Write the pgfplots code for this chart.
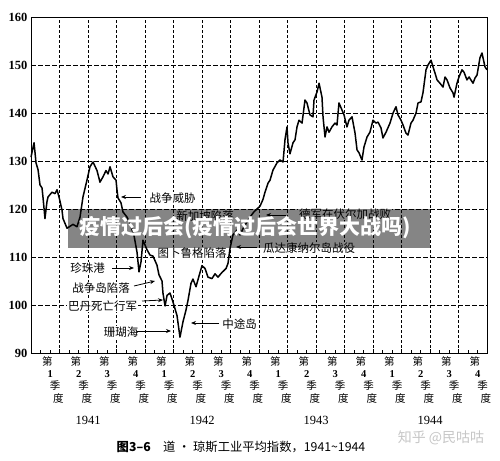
\documentclass[border=0pt]{standalone}
\usepackage{fontspec}
\setmainfont{Liberation Serif}
\newfontfamily\cjk{Noto Sans CJK SC}
\usepackage{pgfplots}
\pgfplotsset{compat=1.18}
\usetikzlibrary{arrows.meta}

\pgfplotstableread{
m v
0 130.8
0.32 133.8
0.53 129.6
0.74 128.2
0.95 125.0
1.16 124.4
1.26 122.5
1.47 118.0
1.68 121.5
1.79 122.5
2.21 123.5
2.53 123.2
2.74 124.0
2.95 122.5
3.26 119.8
3.37 118.0
3.58 117.0
3.79 116.0
4.11 116.4
4.42 116.8
4.84 116.3
5.16 118.3
5.47 122.5
5.89 126.0
6.21 128.8
6.53 129.8
6.95 128.0
7.26 125.6
7.58 126.7
7.89 128.0
8.11 127.3
8.32 128.8
8.63 126.7
8.95 126.0
9.05 124.0
9.16 122.3
9.47 121.3
9.68 119.4
10.11 118.3
10.42 117.0
10.84 114.5
11.16 111.0
11.37 106.9
11.58 109.0
11.79 113.5
12.21 111.5
12.53 110.4
12.84 110.2
13.26 108.3
13.47 106.3
13.79 105.0
13.89 102.5
14.11 99.8
14.32 102.0
14.63 102.5
14.95 100.6
15.37 97.8
15.68 93.3
16.00 96.5
16.32 99.0
16.53 101.0
16.84 104.5
17.05 105.4
17.37 103.8
17.68 106.0
18.00 108.2
18.32 107.6
18.63 105.8
19.05 105.5
19.37 106.5
19.68 105.8
20.11 106.8
20.53 107.6
20.74 108.7
20.95 111.8
21.26 114.6
21.68 115.6
22.00 114.6
22.42 116.3
23.05 118.3
23.47 119.4
23.79 120.0
24.11 120.6
24.42 122.0
24.63 123.5
24.95 125.4
25.16 126.0
25.47 128.1
25.89 129.6
26.21 130.2
26.53 129.8
26.74 134.5
26.95 137.1
27.05 133.8
27.26 131.5
27.58 133.8
27.79 134.4
28.00 137.1
28.21 138.5
28.53 137.9
28.84 142.7
29.05 142.1
29.37 139.6
29.68 139.2
29.79 142.7
30.11 144.4
30.32 146.2
30.63 143.3
30.74 139.2
30.95 135.0
31.16 137.1
31.37 136.0
31.68 137.1
32.00 137.9
32.21 137.5
32.42 142.1
32.74 140.6
32.95 139.6
33.26 137.1
33.47 138.5
33.79 139.2
34.11 135.8
34.32 132.3
34.53 131.7
34.84 130.2
35.05 132.9
35.37 135.0
35.68 136.0
36.00 138.5
36.32 137.9
36.53 138.1
36.84 136.9
37.05 134.8
37.37 136.0
37.79 137.9
38.11 140.0
38.42 141.3
38.63 139.6
38.95 138.5
39.16 137.5
39.47 135.8
39.68 135.4
40.00 137.9
40.21 138.5
40.53 140.0
40.74 142.1
41.05 142.3
41.26 144.2
41.58 149.0
41.79 150.0
42.11 151.0
42.32 149.6
42.53 148.3
42.74 146.9
43.05 146.2
43.37 145.4
43.58 147.5
43.79 146.9
44.11 145.2
44.42 144.2
44.53 143.3
44.84 146.2
45.05 147.5
45.37 149.0
45.58 148.5
45.89 146.9
46.11 147.5
46.53 146.2
46.74 147.3
46.95 147.9
47.26 151.5
47.47 152.5
47.58 151.5
47.79 149.6
48.00 149.0
}\dow

\newcommand{\qlab}[1]{{\cjk\fontsize{10.5}{12.4}\selectfont\begin{tabular}{@{}l@{}}第\\\hspace*{5.3pt}{\rmfamily\bfseries #1}\\\hspace*{7.7pt}季\\\hspace*{11pt}度\end{tabular}}}

\begin{document}
\begin{tikzpicture}[x=1pt,y=1pt]
\useasboundingbox (0,0) rectangle (500,460);
\fill[white] (0,0) rectangle (500,460);
\begin{axis}[
  at={(31pt,107pt)}, anchor=south west,
  scale only axis, width=456pt, height=336pt,
  xmin=0, xmax=48, ymin=90, ymax=160,
  axis line style={black, line width=0.8pt},
  xtick={0,3,...,48}, xticklabels={},
  minor xtick={1,...,47},
  ytick={90,100,...,160},
  /pgf/number format/assume math mode=true,
  yticklabel style={font=\fontsize{12.5}{12.5}\selectfont\bfseries, inner sep=0pt, xshift=-3.5pt},
  ytick style={draw=none},
  tick pos=left, tick align=inside,
  major tick length=4pt, minor tick length=2.5pt,
  xtick style={black, line width=0.6pt},
  minor x tick style={black, line width=0.6pt},
  xmajorgrids, ymajorgrids,
  x grid style={black, line width=0.6pt, dash pattern=on 2.5pt off 2.5pt},
  y grid style={black, line width=0.6pt, dash pattern=on 4.5pt off 2.5pt},
  clip=false,
]
\addplot[black, line width=1.5pt, line join=round] table[x=m, y=v] {\dow};
\end{axis}

% quarter labels
\foreach \k in {0,...,15} {
  \pgfmathsetmacro{\xc}{31+28.5*\k+14.25-3.25}
  \pgfmathtruncatemacro{\qq}{mod(\k,4)+1}
  \node[anchor=north west, inner sep=0pt] at (\xc,104) {\qlab{\qq}};
}
% year labels
\foreach \yr/\xx in {1941/88,1942/202,1943/316,1944/430} {
  \node[font=\fontsize{12.5}{12.5}\selectfont] at (\xx,40) {\yr};
}

% annotations
\begin{scope}[every node/.style={font=\cjk\fontsize{11.5}{11.5}\selectfont, fill=white, inner sep=0.8pt}]
\node at (172.5,262) {战争威胁};
\node at (205,244) {新加坡陷落};
\node at (345,246) {德军在伏尔加战败};
\node at (309,212) {瓜达康纳尔岛战役};
\node at (192,207) {图卜鲁格陷落};
\node at (87.5,192) {珍珠港};
\node at (101,172) {战争岛陷落};
\node at (102.5,154) {巴丹死亡行军};
\node at (121,128) {珊瑚海};
\node at (239.5,136) {中途岛};
\end{scope}
\begin{scope}[line width=0.8pt, -{Stealth[length=5pt,width=4pt]}]
\draw (141,263) -- (121,263);
\draw (286,245) -- (266,245);
\draw (257,213) -- (236,213);
\draw (112,192) -- (134,192);
\draw (134,174) -- (155,179);
\draw (142,159) -- (163,160);
\draw (137,129) -- (171,129);
\draw (219,137) -- (191,137);
\end{scope}

% caption
\node[font=\cjk\fontsize{12.3}{12.3}\selectfont] at (241,13) {{\bfseries 图3–6}\quad 道 · 琼斯工业平均指数，1941\char"007E 1944};
% watermark
\node[font=\cjk\fontsize{14}{14}\selectfont, text=black!22] at (441,22) {知乎 @民咕咕};

% banner
\fill[black, opacity=0.48] (68,212) rectangle (430,251);
\node[font=\cjk\bfseries\fontsize{21}{21}\selectfont, text=white, inner sep=0pt] at (245,232) {疫情过后会(疫情过后会世界大战吗)};
\end{tikzpicture}
\end{document}
